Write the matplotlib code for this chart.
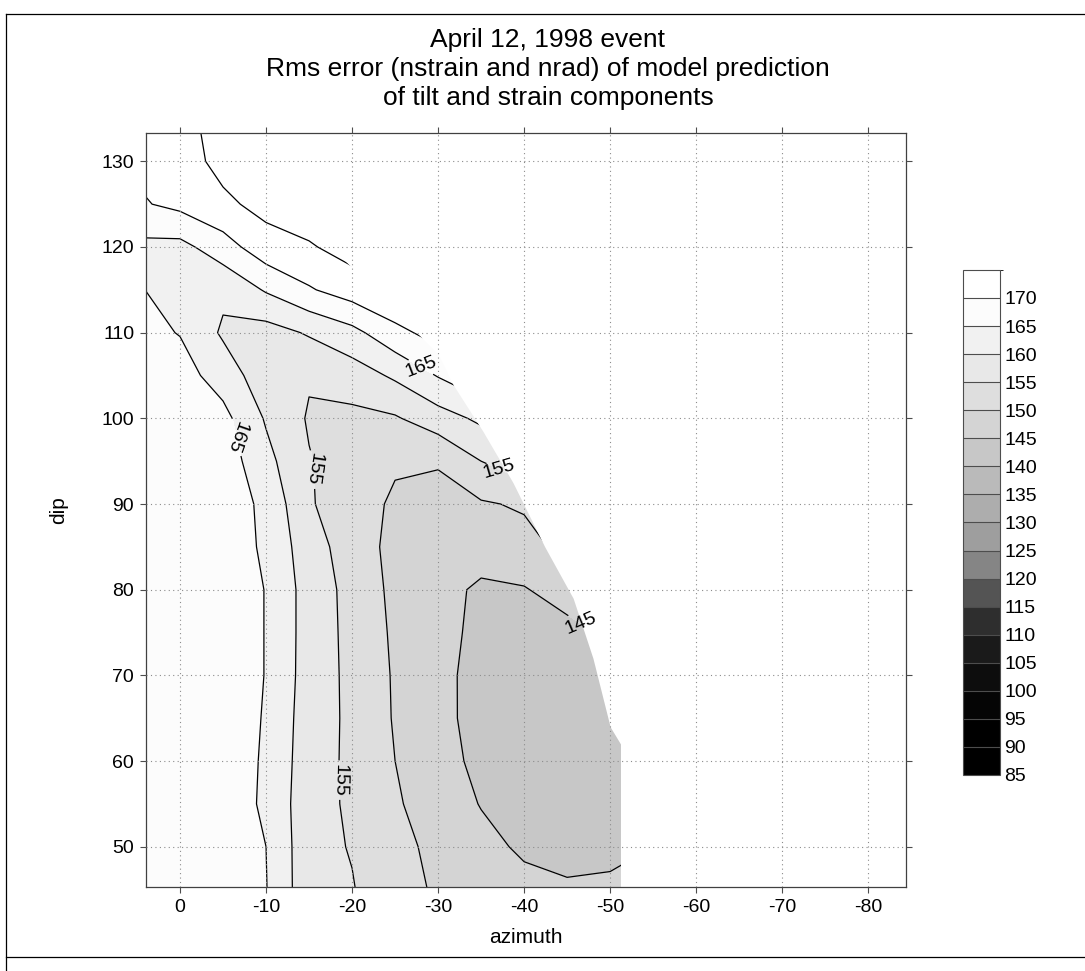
import numpy as np
import matplotlib
matplotlib.use('Agg')
import matplotlib.pyplot as plt
from matplotlib.colors import ListedColormap, BoundaryNorm
from matplotlib.lines import Line2D

plt.rcParams['font.family'] = ['Liberation Sans', 'DejaVu Sans']
plt.rcParams['axes.unicode_minus'] = False

# grid of the model search
azimuth = [5, 0, -5, -10, -15, -20, -25, -30, -35, -40, -45, -50, -55]
dip = [45, 50, 55, 60, 65, 70, 75, 80, 85, 90, 95, 100, 105, 110, 115, 120, 125, 130, 135]

# rms error, one row per dip value
rms = [
    [169.0, 169.0, 168.0, 165.2, 156.7, 155.3, 151.5, 149.5, 147.5, 146.3, 145.6, 145.8, 146.5],
    [169.0, 169.0, 168.0, 165.0, 156.7, 154.7, 151.5, 148.7, 146.3, 144.3, 143.5, 143.9, 145.0],
    [169.0, 169.0, 168.5, 164.0, 157.0, 154.2, 150.6, 147.5, 144.8, 142.5, 141.8, 142.2, 143.5],
    [169.0, 169.0, 168.6, 164.2, 157.3, 154.0, 150.0, 146.8, 143.8, 141.5, 140.8, 141.3, 142.5],
    [169.0, 169.0, 168.7, 164.5, 157.5, 154.0, 149.6, 146.3, 143.4, 141.2, 140.5, 141.0, 142.0],
    [169.0, 169.0, 168.8, 164.8, 157.8, 153.8, 149.5, 146.2, 143.5, 141.5, 141.0, 141.8, 143.0],
    [169.0, 169.0, 168.8, 164.8, 157.9, 153.6, 149.2, 146.3, 144.0, 142.8, 143.6, 145.8, 148.0],
    [169.0, 169.0, 168.8, 164.8, 157.9, 153.4, 148.8, 146.2, 144.4, 144.7, 147.0, 150.0, 153.0],
    [169.0, 169.0, 168.5, 164.0, 157.3, 152.5, 148.6, 147.0, 146.6, 148.2, 151.5, 155.0, 158.0],
    [169.0, 169.0, 168.0, 163.8, 155.6, 151.5, 149.5, 148.8, 149.5, 150.6, 154.0, 157.0, 160.0],
    [169.0, 168.8, 167.8, 161.5, 155.3, 152.3, 150.4, 150.3, 155.0, 158.5, 162.0, 165.0, 168.0],
    [169.0, 168.5, 166.5, 159.5, 154.5, 153.8, 154.5, 157.8, 161.0, 165.0, 168.5, 171.0, 173.0],
    [168.0, 167.0, 162.8, 157.0, 155.5, 157.5, 160.8, 165.3, 169.5, 172.0, 174.0, 176.0, 178.0],
    [166.5, 164.8, 159.3, 158.0, 160.5, 163.5, 168.5, 172.0, 175.0, 177.0, 178.0, 179.0, 180.0],
    [165.8, 161.5, 161.0, 165.5, 169.5, 172.5, 175.0, 177.0, 179.0, 180.0, 181.0, 181.0, 181.0],
    [163.8, 163.5, 167.8, 173.0, 174.5, 177.0, 180.0, 181.0, 181.0, 181.0, 181.0, 181.0, 181.0],
    [169.3, 171.3, 174.0, 176.5, 178.0, 179.0, 180.0, 181.0, 181.0, 181.0, 181.0, 181.0, 181.0],
    [171.0, 172.8, 176.5, 179.0, 180.0, 180.0, 181.0, 181.0, 181.0, 181.0, 181.0, 181.0, 181.0],
    [171.5, 173.5, 177.0, 180.0, 181.0, 181.0, 181.0, 181.0, 181.0, 181.0, 181.0, 181.0, 181.0],
]

# right hand limit of the searched region (no values beyond it)
edge_dip = [44, 62, 64, 72, 79, 85, 92.5, 98.5, 104, 107.5, 122.5, 135]
edge_az = [-51.2, -51.2, -50, -48, -45.7, -42.4, -38.7, -35.2, -31.7, -30, -15.1, -3.5]

levels = list(range(85, 180, 5))
band_grays = [0.0, 0.0, 0.02, 0.05, 0.10, 0.18, 0.33, 0.52, 0.62, 0.68,
              0.73, 0.78, 0.83, 0.87, 0.91, 0.945, 0.99, 1.0]
plain_levels = [150, 160, 170, 175]
labelled = [145, 155, 165]

fig = plt.figure(figsize=(10.85, 9.71), dpi=100)
ax = fig.add_axes([0.1346, 0.0865, 0.7005, 0.7765])
cax = fig.add_axes([0.8876, 0.2019, 0.0341, 0.5201])

cmap = ListedColormap([str(g) for g in band_grays])
norm = BoundaryNorm(levels, cmap.N)

cf = ax.contourf(azimuth, dip, rms, levels=levels, cmap=cmap, norm=norm, zorder=1)
ax.contour(azimuth, dip, rms, levels=plain_levels, colors='k', linewidths=0.9, zorder=2)
cs = ax.contour(azimuth, dip, rms, levels=labelled, colors='k', linewidths=0.9, zorder=2)

# blank out the part of the plane that was not searched
ax.fill_betweenx(edge_dip, edge_az, -95, color='white', lw=0, zorder=2.3)

spots = [(-7.0, 98.0), (-27.9, 105.6), (-15.0, 94.0), (-37.0, 93.6), (-19.2, 57.8), (-46.5, 75.9)]
txts = ax.clabel(cs, manual=spots, fmt='%d', fontsize=14, inline=True, inline_spacing=3)
for t in txts:
    t.set_zorder(5)
    # steep labels read downwards in the original
    r = t.get_rotation() % 360
    if 45 < r < 135:
        t.set_rotation(r - 180)

ax.set_xlim(3.95, -84.4)
ax.set_ylim(45.3, 133.3)
ax.set_xticks(range(0, -90, -10))
ax.set_yticks(range(50, 140, 10))
ax.grid(True, ls=(0, (1, 3)), color='0.55', lw=0.8)
ax.set_axisbelow(False)
ax.tick_params(direction='out', top=True, right=True, length=4.5, width=0.8,
               labelsize=14, color='0.3', pad=4)
for s in ax.spines.values():
    s.set_color('0.25')
    s.set_linewidth(0.9)
ax.set_xlabel('azimuth', fontsize=15, labelpad=9)
ax.set_ylabel('dip', fontsize=15, labelpad=24)

cb = fig.colorbar(cf, cax=cax, ticks=levels[:-1], drawedges=True)
cb.ax.tick_params(length=0, labelsize=14, pad=3)
cb.outline.set_edgecolor('0.3')
cb.outline.set_linewidth(0.8)
cb.dividers.set_color('0.3')
cb.dividers.set_linewidth(0.8)

fig.text(0.505, 0.971, 'April 12, 1998 event\nRms error (nstrain and nrad) of model prediction\n'
         'of tilt and strain components', ha='center', va='top', fontsize=19, linespacing=1.27)

# page border of the scanned sheet
fig.add_artist(Line2D([0.0055, 0.0055], [0.0, 0.986], color='k', lw=0.9))
fig.add_artist(Line2D([0.0055, 1.0], [0.0144, 0.0144], color='k', lw=0.9))
fig.add_artist(Line2D([0.0055, 1.0], [0.986, 0.986], color='k', lw=0.9))

fig.savefig('out.png', dpi=100)
